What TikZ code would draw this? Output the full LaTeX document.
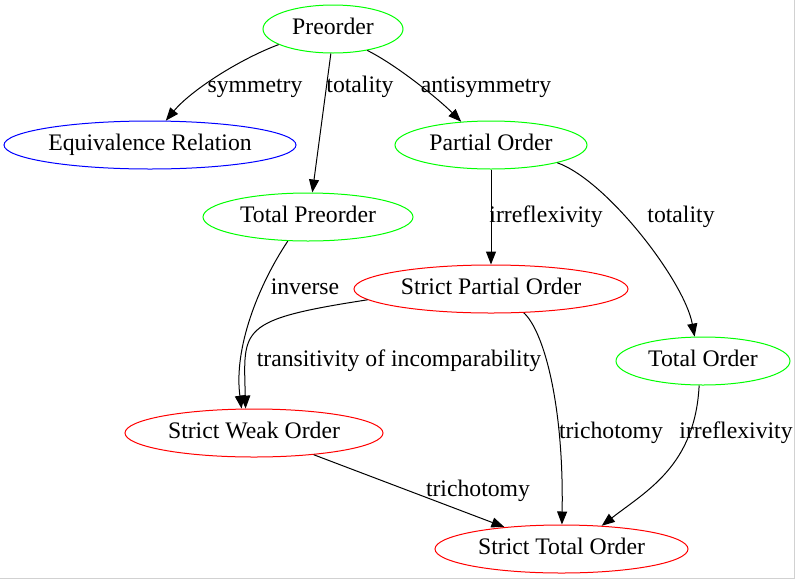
\documentclass[tikz,border=0pt]{standalone}
\usepackage{fontspec}
\setmainfont{Liberation Serif}
\usetikzlibrary{shapes.geometric,arrows.meta}
\definecolor{gvgreen}{RGB}{0,255,0}
\definecolor{gvblue}{RGB}{0,0,255}
\definecolor{gvred}{RGB}{255,0,0}
\begin{document}
\begin{tikzpicture}[x=1pt,y=-1pt,
  font=\fontsize{23.7}{28}\selectfont,
  rel/.style={ellipse,draw=#1,text=black,line width=1pt,inner sep=0pt,
    minimum height=48pt,text height=15.6pt,text depth=5.2pt},
  lbl/.style={inner sep=0pt,text height=15.6pt,text depth=5.2pt},
  edge/.style={line width=1pt,-{Triangle[length=13pt,width=10pt]}}]
\useasboundingbox (0,0) rectangle (795,579);
\draw[black!18] (794.5,0) -- (794.5,578.5) -- (0,578.5);
\node[rel=gvgreen,minimum width=140pt] (pre) at (333,29) {Preorder};
\node[rel=gvblue,minimum width=292pt] (equiv) at (150,145) {Equivalence Relation};
\node[rel=gvgreen,minimum width=192pt] (partial) at (491,145) {Partial Order};
\node[rel=gvgreen,minimum width=210pt] (totpre) at (308,217) {Total Preorder};
\node[rel=gvred,minimum width=274pt] (spo) at (491,289) {Strict Partial Order};
\node[rel=gvgreen,minimum width=174pt] (tot) at (703,361) {Total Order};
\node[rel=gvred,minimum width=258pt] (swo) at (254,433) {Strict Weak Order};
\node[rel=gvred,minimum width=253pt] (sto) at (561.5,549) {Strict Total Order};
\node[lbl] (lsym) at (255,87) {symmetry};
\node[lbl] (ltotal) at (360,87) {totality};
\node[lbl] (lanti) at (486,87) {antisymmetry};
\node[lbl] (lirr) at (546,217) {irreflexivity};
\node[lbl] (ltotal2) at (681,217) {totality};
\node[lbl] (linv) at (305,289) {inverse};
\node[lbl] (ltrans) at (399,361) {transitivity of incomparability};
\node[lbl] (ltri) at (611,433) {trichotomy};
\node[lbl] (lirr2) at (736,433) {irreflexivity};
\node[lbl] (ltri2) at (478,491) {trichotomy};
\draw[edge] (pre.196) .. controls +(-40,15) and +(25,-30) .. (equiv.57);
\draw[edge] (pre.265) -- (totpre.80);
\draw[edge] (pre.328) .. controls +(30,15) and +(-22,-22) .. (partial.142);
\draw[edge] (partial.south) -- (spo.north);
\draw[edge] (partial.345) .. controls +(50,18) and +(-10,-55) .. (tot.109);
\draw[edge] (totpre.230) .. controls +(-30,45) and +(-8,-60) .. (swo.117);
\draw[edge] (spo.185) .. controls +(-130,20) and +(-2,-80) .. (swo.109);
\draw[edge] (spo.324) .. controls +(20,18) and +(2,-120) .. (sto.89);
\draw[edge] (tot.261) .. controls +(-4,80) and +(45,-35) .. (sto.30);
\draw[edge] (swo.340) -- (sto.159);
\end{tikzpicture}
\end{document}
